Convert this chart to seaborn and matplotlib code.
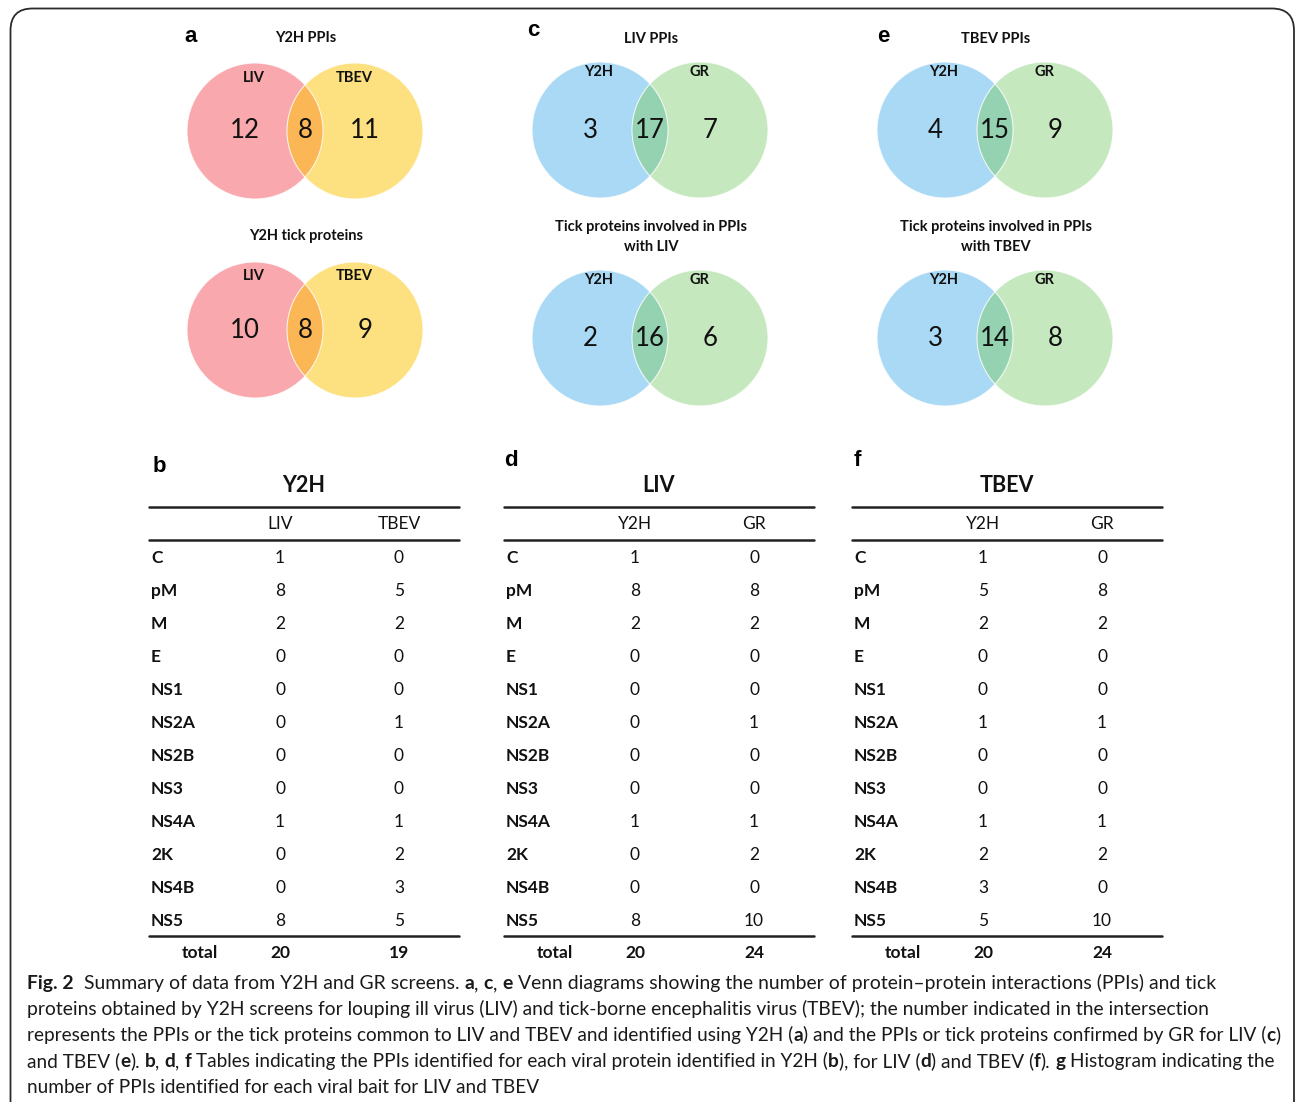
import numpy as np
import matplotlib
matplotlib.use("Agg")
import matplotlib.pyplot as plt
from matplotlib.patches import Circle, FancyBboxPatch
from matplotlib.font_manager import FontProperties
import seaborn as sns

# --- data ---
venn_titles = ["Y2H PPIs", "Y2H tick proteins",
               "LIV PPIs", "Tick proteins involved in PPIs\nwith LIV",
               "TBEV PPIs", "Tick proteins involved in PPIs\nwith TBEV"]
venn_sets = [("LIV", "TBEV"), ("LIV", "TBEV"),
             ("Y2H", "GR"), ("Y2H", "GR"),
             ("Y2H", "GR"), ("Y2H", "GR")]
venn_counts = [(12, 8, 11), (10, 8, 9),
               (3, 17, 7), (2, 16, 6),
               (4, 15, 9), (3, 14, 8)]

proteins = ["C", "pM", "M", "E", "NS1", "NS2A", "NS2B", "NS3", "NS4A", "2K", "NS4B", "NS5"]
y2h_liv = [1, 8, 2, 0, 0, 0, 0, 0, 1, 0, 0, 8]
y2h_tbev = [0, 5, 2, 0, 0, 1, 0, 0, 1, 2, 3, 5]
liv_y2h = [1, 8, 2, 0, 0, 0, 0, 0, 1, 0, 0, 8]
liv_gr = [0, 8, 2, 0, 0, 1, 0, 0, 1, 2, 0, 10]
tbev_y2h = [1, 5, 2, 0, 0, 1, 0, 0, 1, 2, 3, 5]
tbev_gr = [0, 8, 2, 0, 0, 1, 0, 0, 1, 2, 0, 10]

tables = [("Y2H", ("LIV", "TBEV"), (y2h_liv, y2h_tbev)),
          ("LIV", ("Y2H", "GR"), (liv_y2h, liv_gr)),
          ("TBEV", ("Y2H", "GR"), (tbev_y2h, tbev_gr))]

caption = [
    [("Fig. 2", True), ("  Summary of data from Y2H and GR screens. ", False), ("a", True), (", ", False),
     ("c", True), (", ", False), ("e", True),
     (" Venn diagrams showing the number of protein\u2013protein interactions (PPIs) and tick", False)],
    [("proteins obtained by Y2H screens for louping ill virus (LIV) and tick-borne encephalitis virus (TBEV); "
      "the number indicated in the intersection", False)],
    [("represents the PPIs or the tick proteins common to LIV and TBEV and identified using Y2H (", False),
     ("a", True), (") and the PPIs or tick proteins confirmed by GR for LIV (", False), ("c", True), (")", False)],
    [("and TBEV (", False), ("e", True), ("). ", False), ("b", True), (", ", False), ("d", True), (", ", False),
     ("f", True), (" Tables indicating the PPIs identified for each viral protein identified in Y2H (", False),
     ("b", True), ("), for LIV (", False), ("d", True), (") and TBEV (", False), ("f", True), ("). ", False),
     ("g", True), (" Histogram indicating the", False)],
    [("number of PPIs identified for each viral bait for LIV and TBEV", False)],
]
caption_right = [1211, 1208, 1281, 1276, 530]

# --- styling ---
sns.set_theme(style="white")
plt.rcParams['font.family'] = ['Lato', 'DejaVu Sans']
venn_colors = [("#F9A9AD", "#FDE07F", "#FBB656")] * 2 + [("#AAD9F6", "#C5E8BF", "#94D2B2")] * 4

fig = plt.figure(figsize=(12.95, 11.02), dpi=100)
ax = fig.add_axes([0, 0, 1, 1])
ax.set_xlim(0, 1295)
ax.set_ylim(1102, 0)
ax.axis("off")

# rounded frame
ax.add_patch(FancyBboxPatch((10.5, 8.5), 1283.5, 1200, boxstyle="round,pad=0,rounding_size=22",
                            fill=False, edgecolor="#2b2b2b", lw=1.3))

# --- Venn diagrams ---
venn_cx = [305, 305, 650, 650, 995, 995]
venn_cy = [131, 330, 130, 338, 130, 338]
title_y = [38, 236, 39, 237, 39, 237]
label_y = [78, 276, 72, 280, 72, 280]
r = 68
for i in range(6):
    cx, cy = venn_cx[i], venn_cy[i]
    c1, c2, c12 = venn_colors[i]
    left = Circle((cx - 50, cy), r, facecolor=c1, edgecolor="none", zorder=1)
    right = Circle((cx + 50, cy), r, facecolor=c2, edgecolor="none", zorder=1)
    ax.add_patch(left)
    ax.add_patch(right)
    inter = Circle((cx + 50, cy), r, facecolor=c12, edgecolor="none", zorder=2)
    ax.add_patch(inter)
    inter.set_clip_path(left)
    for xx in (cx - 50, cx + 50):
        ax.add_patch(Circle((xx, cy), r, fill=False, edgecolor="white", lw=0.8, alpha=0.8, zorder=3))
    ax.text(cx + 1, title_y[i], venn_titles[i], ha="center", va="center", fontsize=10.5,
            fontweight="bold", linespacing=1.5, color="#111111")
    ax.text(cx - 51, label_y[i], venn_sets[i][0], ha="center", va="center", fontsize=10.5,
            fontweight="bold", color="#111111")
    ax.text(cx + 49, label_y[i], venn_sets[i][1], ha="center", va="center", fontsize=10.5,
            fontweight="bold", color="#111111")
    for dx, n in zip((-60, 0, 60), venn_counts[i]):
        ax.text(cx + dx, cy, str(n), ha="center", va="center", fontsize=18.5, color="#111111", zorder=4)

# --- tables ---
table_x = [150, 505, 853]
row_y0, row_dy = 558, 33
for (title, cols, vals), x0 in zip(tables, table_x):
    ax.text(x0 + 154, 486, title, ha="center", va="center", fontsize=15.5, fontweight="bold", color="#111111")
    ax.plot([x0 - 1, x0 + 309], [507, 507], color="#222222", lw=1.8)
    ax.plot([x0 - 1, x0 + 309], [540, 540], color="#222222", lw=1.8)
    ax.plot([x0 - 1, x0 + 309], [936, 936], color="#222222", lw=1.8)
    col_x = [x0 + 130, x0 + 249]
    for cxx, name in zip(col_x, cols):
        ax.text(cxx, 524, name, ha="center", va="center", fontsize=12.5, color="#111111")
    for j, p in enumerate(proteins):
        y = row_y0 + row_dy * j
        ax.text(x0 + 1, y, p, ha="left", va="center", fontsize=12.5, fontweight="bold", color="#111111")
        for cxx, v in zip(col_x, vals):
            ax.text(cxx, y, str(v[j]), ha="center", va="center", fontsize=12.5, color="#111111")
    ax.text(x0 + 50, 953, "total", ha="center", va="center", fontsize=12.5, fontweight="bold", color="#111111")
    for cxx, v in zip(col_x, vals):
        ax.text(cxx, 953, str(sum(v)), ha="center", va="center", fontsize=12.5, fontweight="bold", color="#111111")

# panel letters
for lab, lx, ly in [("a", 191, 37), ("c", 533, 31), ("e", 883, 36),
                    ("b", 159, 467), ("d", 511, 460), ("f", 857, 460)]:
    ax.text(lx, ly, lab, ha="center", va="center", fontsize=16, fontweight="bold",
            family="Liberation Sans", color="black")

# --- caption with mixed weights ---
renderer = fig.canvas.get_renderer()


def seg_width(s, fp):
    w1, _, _ = renderer.get_text_width_height_descent("x" + s + "x", fp, ismath=False)
    w0, _, _ = renderer.get_text_width_height_descent("xx", fp, ismath=False)
    return w1 - w0


cap_family = ['Lato', 'DejaVu Sans']
base = 10.0
for k, line in enumerate(caption):
    fr = FontProperties(family=cap_family, size=base)
    fb = FontProperties(family=cap_family, size=base, weight="bold")
    w = sum(seg_width(s, fb if b else fr) for s, b in line)
    size = base * (caption_right[k] - 27.0) / w
    if k == 4:
        size = prev_size
    prev_size = size
    fr = FontProperties(family=cap_family, size=size)
    fb = FontProperties(family=cap_family, size=size, weight="bold")
    x = 27.0
    y = 989 + 26 * k
    for s, b in line:
        fp = fb if b else fr
        lead = len(s) - len(s.lstrip())
        ax.text(x + seg_width(s[:lead], fp), y, s.strip(), fontproperties=fp, ha="left",
                va="baseline", color="#1a1a1a")
        x += seg_width(s, fp)

fig.savefig("out.png", dpi=100)
